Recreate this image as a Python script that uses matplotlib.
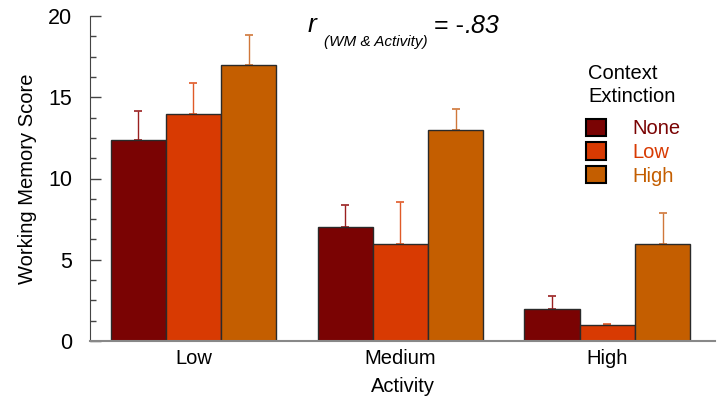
import matplotlib.pyplot as plt
import numpy as np

plt.rcParams['font.family'] = ['Liberation Sans', 'DejaVu Sans']

activity = ['Low', 'Medium', 'High']
series = ['None', 'Low', 'High']
none_vals = [12.4, 7.0, 2.0]
low_vals = [14.0, 6.0, 1.0]
high_vals = [17.0, 13.0, 6.0]
none_err = [1.75, 1.4, 0.75]
low_err = [1.85, 2.55, 0.05]
high_err = [1.85, 1.25, 1.9]

colors = ['#7a0303', '#d83a02', '#c45e00']
err_colors = ['#9a2020', '#e05a28', '#d0773a']

fig = plt.figure(figsize=(7.22, 4.0), dpi=100)
ax = fig.add_axes([90 / 722, 1 - 341 / 400, 625 / 722, 325 / 400])

x = np.arange(len(activity))
w = 0.267
vals = [none_vals, low_vals, high_vals]
errs = [none_err, low_err, high_err]
for i, (v, e) in enumerate(zip(vals, errs)):
    pos = x + (i - 1) * w
    ax.errorbar(pos, v, yerr=[np.zeros(len(e)), e], fmt='none',
                ecolor=err_colors[i], elinewidth=1, capsize=3, capthick=1.2, zorder=1)
    ax.bar(pos, v, width=w, color=colors[i], edgecolor='#2a2a2a', linewidth=1,
           label=series[i], zorder=2)

ax.set_xlim(-0.5, 2.52)
ax.set_ylim(0, 20)
ax.set_yticks([0, 5, 10, 15, 20])
ax.set_yticks(np.arange(0, 20.1, 1.25), minor=True)
ax.tick_params(axis='y', direction='in', length=8, width=1, color='#444444',
               labelsize=15.5, pad=13)
ax.tick_params(axis='y', which='minor', direction='in', length=4.5, width=1,
               color='#444444')
ax.set_xticks(x)
ax.set_xticklabels(activity)
ax.tick_params(axis='x', length=0, labelsize=14.5, pad=6)

ax.spines[['top', 'right']].set_visible(False)
ax.spines['left'].set_color('#444444')
ax.spines['bottom'].set_color('#888888')
ax.spines['bottom'].set_linewidth(1.5)

ax.set_ylabel('Working Memory Score', fontsize=14.5, labelpad=8)
ax.set_xlabel('Activity', fontsize=14.5, labelpad=6)

# legend title as separate text (more space above the entries)
fig.text(588 / 722, 1 - 64 / 400, 'Context\nExtinction', fontsize=14.5,
         va='top', ha='left', linespacing=1.25)
leg = ax.legend(frameon=False, fontsize=14.5, labelcolor=colors,
                handlelength=1.0, handleheight=0.95, handletextpad=1.3,
                labelspacing=0.2, borderpad=0, borderaxespad=0,
                loc='upper left', bbox_to_anchor=(0.7936, 0.684))
for h in leg.legend_handles:
    h.set_edgecolor('black')
    h.set_linewidth(1.5)

fig.text(308 / 722, 1 - 32 / 400, 'r', fontsize=19, style='italic', va='baseline')
fig.text(324 / 722, 1 - 46 / 400, '(WM & Activity)', fontsize=11, style='italic',
         va='baseline')
fig.text(434 / 722, 1 - 33 / 400, '= -', fontsize=18, va='baseline')
fig.text(464 / 722, 1 - 33 / 400, '.83', fontsize=18, style='italic', va='baseline')

fig.savefig('out.png', dpi=100)
